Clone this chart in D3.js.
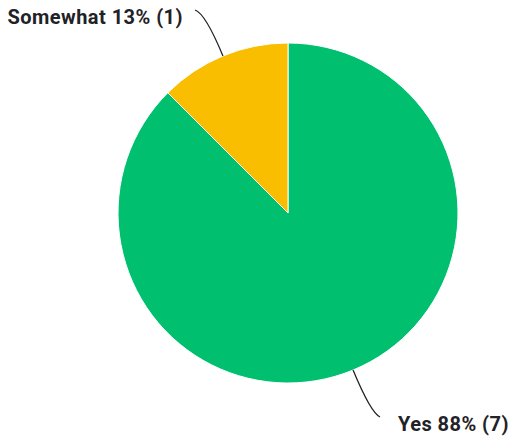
<!DOCTYPE html>
<html>
<head>
<meta charset="utf-8">
<script src="https://cdn.jsdelivr.net/npm/d3@7"></script>
<style>
  html, body { margin: 0; padding: 0; background: #fff; }
  svg text { font-family: Roboto, "Noto Sans", sans-serif; font-weight: 700; fill: #1f2226; letter-spacing: 0.45px; }
</style>
</head>
<body>
<svg id="chart" width="513" height="437"></svg>
<script>
// Survey answers and how many people gave each one
const categories = ["Yes", "Somewhat"];
const counts = [7, 1];
const colors = ["#00BF6F", "#F9BE00"];

const svg = d3.select("#chart");
const cx = 288, cy = 213, radius = 170;
const total = d3.sum(counts);

const pie = d3.pie().sort(null).value(d => d.count);
const arcs = pie(categories.map((c, i) => ({ name: c, count: counts[i], color: colors[i] })));
const arc = d3.arc().innerRadius(0).outerRadius(radius);

const g = svg.append("g").attr("transform", `translate(${cx},${cy})`);

g.selectAll("path.slice")
  .data(arcs)
  .join("path")
  .attr("class", "slice")
  .attr("d", arc)
  .attr("fill", d => d.data.color)
  .attr("stroke", "#fff")
  .attr("stroke-width", 1);

// Leader lines: leave the rim radially, then bend toward the label
const labelSpec = {
  "Yes":      { end: [92, 204], anchor: "start", dx: 18, dy: 14 },
  "Somewhat": { end: [-93, -203], anchor: "end", dx: -12, dy: 14 }
};

arcs.forEach(d => {
  const mid = (d.startAngle + d.endAngle) / 2;
  const dir = [Math.sin(mid), -Math.cos(mid)];
  const p0 = [dir[0] * radius, dir[1] * radius];
  const ctrl = [dir[0] * (radius + 46), dir[1] * (radius + 46)];
  const spec = labelSpec[d.data.name];
  const p = d3.path();
  p.moveTo(p0[0], p0[1]);
  p.quadraticCurveTo(ctrl[0], ctrl[1], spec.end[0], spec.end[1]);
  g.append("path")
    .attr("d", p.toString())
    .attr("fill", "none")
    .attr("stroke", "#1f2226")
    .attr("stroke-width", 1.3);

  const pct = Math.round(d.data.count / total * 100);
  g.append("text")
    .attr("x", spec.end[0] + spec.dx)
    .attr("y", spec.end[1] + spec.dy)
    .attr("text-anchor", spec.anchor)
    .attr("font-size", 20)
    .text(`${d.data.name} ${pct}% (${d.data.count})`);
});
</script>
</body>
</html>
